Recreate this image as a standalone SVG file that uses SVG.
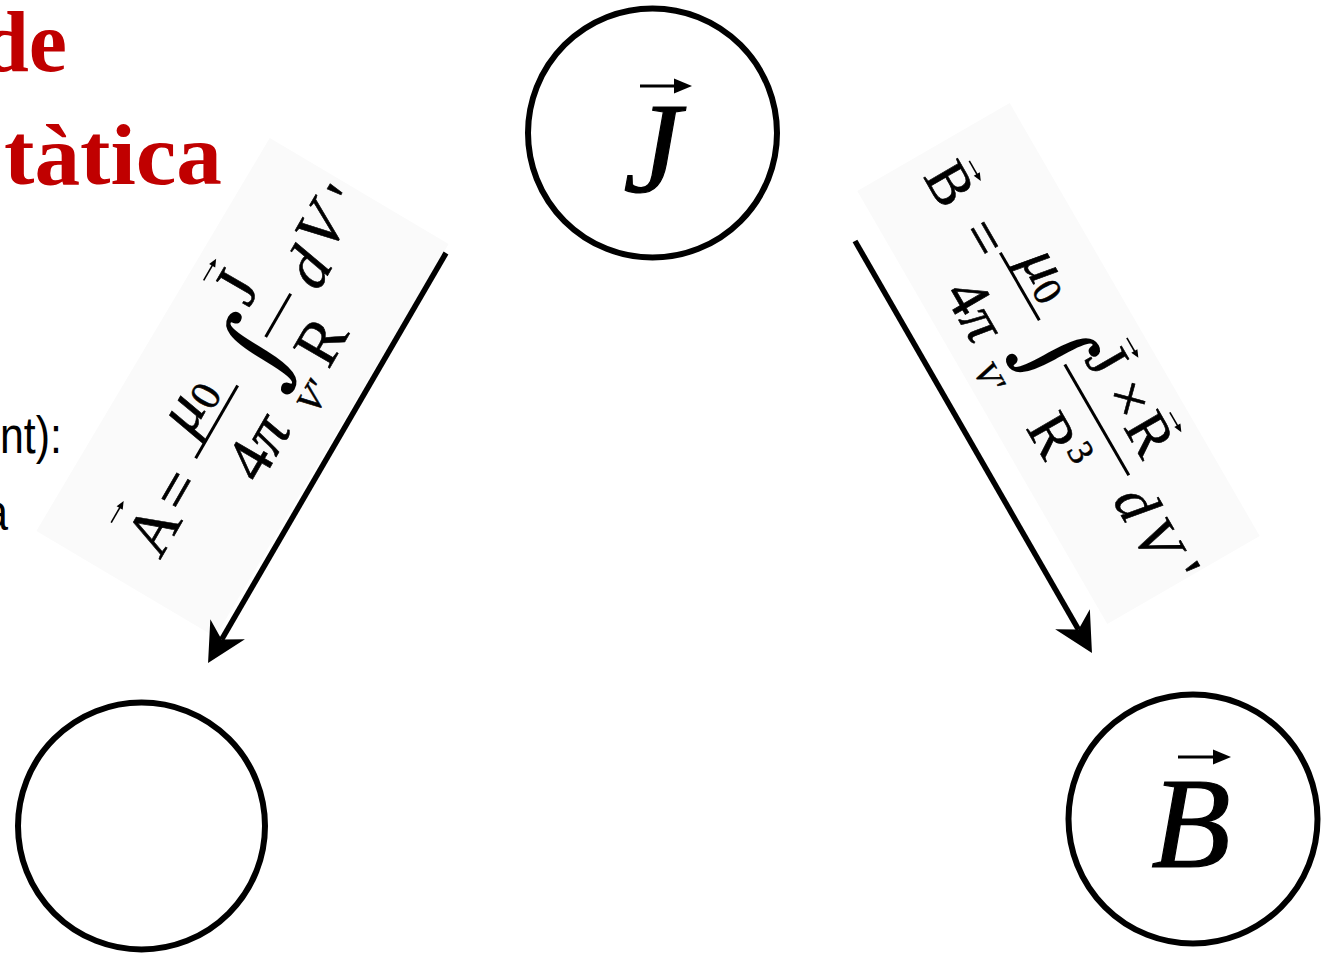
<svg xmlns="http://www.w3.org/2000/svg" width="1328" height="956" viewBox="0 0 1328 956">
<style>
.ring{fill:none;stroke:#000;stroke-width:6}
.sym{font-family:"Liberation Serif","Times New Roman",serif;font-style:italic;font-size:130px;text-anchor:middle;fill:#000;stroke:#000;stroke-width:1.2}
.title{font-family:"Liberation Serif","Times New Roman",serif;font-weight:bold;font-size:86px;fill:#c00000}
.body{font-family:"Liberation Sans",Arial,sans-serif;font-size:52px;fill:#000}
.box{fill:#fafafa}
.f{font-family:"Liberation Serif","Times New Roman",serif;fill:#000;stroke:#000;stroke-width:0.6;text-anchor:middle}
.int{font-family:"DejaVu Serif",serif;fill:#000;text-anchor:middle}
.it{font-style:italic}
.bar{stroke:#000;stroke-width:3}
.va{stroke:#000;stroke-width:1.6;fill:none}
.vb{stroke:#000;stroke-width:3;fill:none}
.conn{stroke:#000;stroke-width:5.5;fill:none}
</style>
<defs>
<marker id="ah" markerUnits="userSpaceOnUse" markerWidth="60" markerHeight="60" refX="0" refY="0" orient="auto" overflow="visible">
<path d="M27,0 L-12,-20 L0,0 L-12,20 Z" fill="#000"/>
</marker>
<marker id="sm" markerUnits="userSpaceOnUse" markerWidth="20" markerHeight="20" refX="0" refY="0" orient="auto" overflow="visible">
<path d="M5,0 L-3,-3.5 L-3,3.5 Z" fill="#000"/>
</marker>
<marker id="big" markerUnits="userSpaceOnUse" markerWidth="30" markerHeight="30" refX="0" refY="0" orient="auto" overflow="visible">
<path d="M14,0 L-4,-7.5 L-4,7.5 Z" fill="#000"/>
</marker>
</defs>

<g id="title">
<text class="title" x="-19" y="71">de</text>
<text class="title" x="4" y="184" textLength="218" lengthAdjust="spacingAndGlyphs">tàtica</text>
</g>
<g id="body-text">
<text class="body" x="0" y="453" textLength="62" lengthAdjust="spacingAndGlyphs">nt):</text>
<text class="body" x="-16" y="530" textLength="24" lengthAdjust="spacingAndGlyphs">a</text>
</g>

<g id="label-A">
<rect class="box" transform="translate(242.5,387.5) rotate(-59.3)" x="-228.5" y="-104" width="457" height="208"/>
<g transform="translate(242,388) rotate(-60)">
<text class="f" font-size="64" x="-167" y="15">A</text>
<path class="va" d="M-182,-46 L-162,-46" marker-end="url(#sm)"/>
<text class="f" font-size="64" x="-121" y="15">=</text>
<line class="bar" x1="-84" y1="-5" x2="0" y2="-5"/>
<text class="f it" font-size="64" x="-41" y="-20">μ<tspan font-size="42" font-style="normal" dy="6">0</tspan></text>
<text class="f" font-size="64" x="-43" y="64">4<tspan font-style="italic">π</tspan></text>
<text class="int" font-size="100" x="40" y="28">∫</text>
<text class="f it" font-size="36" x="28" y="78">V'</text>
<line class="bar" x1="56" y1="-5" x2="106" y2="-5"/>
<text class="f" font-size="64" x="85" y="-34">J</text>
<path class="va" d="M74,-87 L94,-87" marker-end="url(#sm)"/>
<text class="f" font-size="64" x="80" y="66">R</text>
<text class="f it" font-size="64" x="137" y="18">d</text>
<text class="f it" font-size="64" x="179" y="9">V</text>
<text class="f" font-size="64" x="218" y="16">'</text>
</g>
</g>

<g id="label-B" transform="translate(1058.5,363.5) rotate(60)">
<rect class="box" x="-250" y="-88" width="500" height="176"/>
<text class="f" font-size="60" x="-210" y="24">B</text>
<path class="va" d="M-220,-24 L-202,-24" marker-end="url(#sm)"/>
<text class="f" font-size="60" x="-146" y="21">=</text>
<line class="bar" x1="-125" y1="-5" x2="-47" y2="-5"/>
<text class="f it" font-size="60" x="-83" y="-18">μ<tspan font-size="40" font-style="normal" dy="5">0</tspan></text>
<text class="f" font-size="60" x="-88" y="65">4<tspan font-style="italic">π</tspan></text>
<text class="int" font-size="95" x="-10" y="28">∫</text>
<text class="f it" font-size="34" x="-23" y="78">V'</text>
<line class="bar" x1="4" y1="-5" x2="132" y2="-5"/>
<text class="f" font-size="60" x="21" y="-24">J</text>
<path class="va" d="M12,-72 L30,-72" marker-end="url(#sm)"/>
<text class="f" font-size="60" x="66" y="-24">×</text>
<text class="f" font-size="60" x="107" y="-24">R</text>
<path class="va" d="M98,-72 L116,-72" marker-end="url(#sm)"/>
<text class="f" font-size="60" x="68" y="61">R<tspan font-size="36" dy="-24">3</tspan></text>
<text class="f it" font-size="60" x="160" y="22">d</text>
<text class="f it" font-size="60" x="202" y="22">V</text>
<text class="f" font-size="60" x="243" y="18">'</text>
</g>

<g id="connectors">
<path class="conn" d="M446,253 L221.6,639.6" marker-end="url(#ah)"/>
<path class="conn" d="M855,241 L1078.5,629.6" marker-end="url(#ah)"/>
</g>

<g id="node-J">
<circle class="ring" cx="652.5" cy="133" r="124.5"/>
<text class="sym" x="652" y="192">J</text>
<path class="vb" d="M640,86 L678,86" marker-end="url(#big)"/>
</g>
<g id="node-A">
<circle class="ring" cx="141.5" cy="826" r="123.5"/>
</g>
<g id="node-B">
<circle class="ring" cx="1193" cy="819" r="124.5"/>
<text class="sym" x="1191" y="867">B</text>
<path class="vb" d="M1178,757 L1217,757" marker-end="url(#big)"/>
</g>
</svg>
